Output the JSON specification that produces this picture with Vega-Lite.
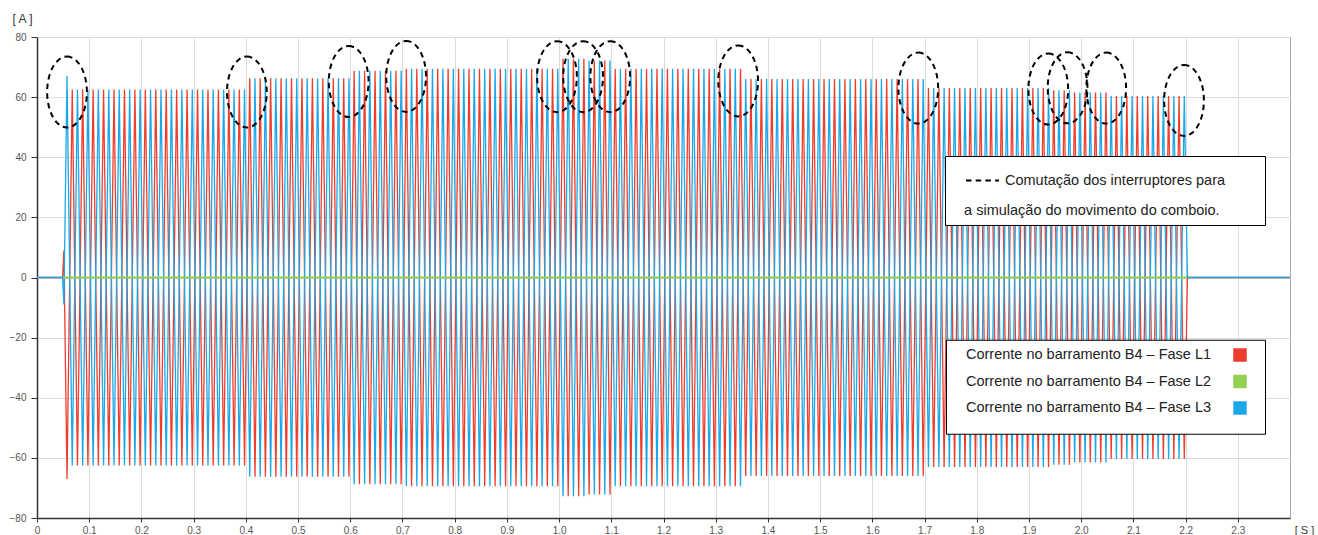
{
"$schema": "https://vega.github.io/schema/vega-lite/v6.json",
"width": 1253,
"height": 481,
"autosize": {"type": "none"},
"padding": {"left": 37, "top": 37, "right": 28, "bottom": 17},
"background": "white",
"config": {
  "font": "Liberation Sans",
  "view": {"stroke": "#a8a8a8", "strokeWidth": 1},
  "axis": {"gridColor": "#dcdcdc", "gridWidth": 1, "domainColor": "#333333", "domainWidth": 1.5, "tickColor": "#333333", "labelColor": "#555555", "labelFontSize": 10, "labelFont": "Liberation Sans", "titleFont": "Liberation Sans", "titleFontWeight": "normal", "titleColor": "#333333", "titleFontSize": 12, "labelFlush": false, "labelOverlap": false}
},
"datasets": {
  "fases": [
    {"t":0,"L1":0,"L3":0},
    {"t":0.049,"L1":0,"L3":0},
    {"t":0.0515,"L1":9,"L3":-9},
    {"t":0.0575,"L1":-67,"L3":67},
    {"t":0.0675,"L1":62.5,"L3":-62.5},
    {"t":0.0775,"L1":-62.5,"L3":62.5},
    {"t":0.0875,"L1":62.5,"L3":-62.5},
    {"t":0.0975,"L1":-62.5,"L3":62.5},
    {"t":0.1075,"L1":62.5,"L3":-62.5},
    {"t":0.1175,"L1":-62.5,"L3":62.5},
    {"t":0.1275,"L1":62.5,"L3":-62.5},
    {"t":0.1375,"L1":-62.5,"L3":62.5},
    {"t":0.1475,"L1":62.5,"L3":-62.5},
    {"t":0.1575,"L1":-62.5,"L3":62.5},
    {"t":0.1675,"L1":62.5,"L3":-62.5},
    {"t":0.1775,"L1":-62.5,"L3":62.5},
    {"t":0.1875,"L1":62.5,"L3":-62.5},
    {"t":0.1975,"L1":-62.5,"L3":62.5},
    {"t":0.2075,"L1":62.5,"L3":-62.5},
    {"t":0.2175,"L1":-62.5,"L3":62.5},
    {"t":0.2275,"L1":62.5,"L3":-62.5},
    {"t":0.2375,"L1":-62.5,"L3":62.5},
    {"t":0.2475,"L1":62.5,"L3":-62.5},
    {"t":0.2575,"L1":-62.5,"L3":62.5},
    {"t":0.2675,"L1":62.5,"L3":-62.5},
    {"t":0.2775,"L1":-62.5,"L3":62.5},
    {"t":0.2875,"L1":62.5,"L3":-62.5},
    {"t":0.2975,"L1":-62.5,"L3":62.5},
    {"t":0.3075,"L1":62.5,"L3":-62.5},
    {"t":0.3175,"L1":-62.5,"L3":62.5},
    {"t":0.3275,"L1":62.5,"L3":-62.5},
    {"t":0.3375,"L1":-62.5,"L3":62.5},
    {"t":0.3475,"L1":62.5,"L3":-62.5},
    {"t":0.3575,"L1":-62.5,"L3":62.5},
    {"t":0.3675,"L1":62.5,"L3":-62.5},
    {"t":0.3775,"L1":-62.5,"L3":62.5},
    {"t":0.3875,"L1":62.5,"L3":-62.5},
    {"t":0.3975,"L1":-62.5,"L3":62.5},
    {"t":0.4075,"L1":66.3,"L3":-66.3},
    {"t":0.4175,"L1":-66.3,"L3":66.3},
    {"t":0.4275,"L1":66.3,"L3":-66.3},
    {"t":0.4375,"L1":-66.3,"L3":66.3},
    {"t":0.4475,"L1":66.3,"L3":-66.3},
    {"t":0.4575,"L1":-66.3,"L3":66.3},
    {"t":0.4675,"L1":66.3,"L3":-66.3},
    {"t":0.4775,"L1":-66.3,"L3":66.3},
    {"t":0.4875,"L1":66.3,"L3":-66.3},
    {"t":0.4975,"L1":-66.3,"L3":66.3},
    {"t":0.5075,"L1":66.3,"L3":-66.3},
    {"t":0.5175,"L1":-66.3,"L3":66.3},
    {"t":0.5275,"L1":66.3,"L3":-66.3},
    {"t":0.5375,"L1":-66.3,"L3":66.3},
    {"t":0.5475,"L1":66.3,"L3":-66.3},
    {"t":0.5575,"L1":-66.3,"L3":66.3},
    {"t":0.5675,"L1":66.3,"L3":-66.3},
    {"t":0.5775,"L1":-66.3,"L3":66.3},
    {"t":0.5875,"L1":66.3,"L3":-66.3},
    {"t":0.5975,"L1":-66.3,"L3":66.3},
    {"t":0.6075,"L1":68.8,"L3":-68.8},
    {"t":0.6175,"L1":-68.8,"L3":68.8},
    {"t":0.6275,"L1":68.8,"L3":-68.8},
    {"t":0.6375,"L1":-68.8,"L3":68.8},
    {"t":0.6475,"L1":68.8,"L3":-68.8},
    {"t":0.6575,"L1":-68.8,"L3":68.8},
    {"t":0.6675,"L1":68.8,"L3":-68.8},
    {"t":0.6775,"L1":-68.8,"L3":68.8},
    {"t":0.6875,"L1":68.8,"L3":-68.8},
    {"t":0.6975,"L1":-68.8,"L3":68.8},
    {"t":0.7075,"L1":69.4,"L3":-69.4},
    {"t":0.7175,"L1":-69.4,"L3":69.4},
    {"t":0.7275,"L1":69.4,"L3":-69.4},
    {"t":0.7375,"L1":-69.4,"L3":69.4},
    {"t":0.7475,"L1":69.4,"L3":-69.4},
    {"t":0.7575,"L1":-69.4,"L3":69.4},
    {"t":0.7675,"L1":69.4,"L3":-69.4},
    {"t":0.7775,"L1":-69.4,"L3":69.4},
    {"t":0.7875,"L1":69.4,"L3":-69.4},
    {"t":0.7975,"L1":-69.4,"L3":69.4},
    {"t":0.8075,"L1":69.4,"L3":-69.4},
    {"t":0.8175,"L1":-69.4,"L3":69.4},
    {"t":0.8275,"L1":69.4,"L3":-69.4},
    {"t":0.8375,"L1":-69.4,"L3":69.4},
    {"t":0.8475,"L1":69.4,"L3":-69.4},
    {"t":0.8575,"L1":-69.4,"L3":69.4},
    {"t":0.8675,"L1":69.4,"L3":-69.4},
    {"t":0.8775,"L1":-69.4,"L3":69.4},
    {"t":0.8875,"L1":69.4,"L3":-69.4},
    {"t":0.8975,"L1":-69.4,"L3":69.4},
    {"t":0.9075,"L1":69.4,"L3":-69.4},
    {"t":0.9175,"L1":-69.4,"L3":69.4},
    {"t":0.9275,"L1":69.4,"L3":-69.4},
    {"t":0.9375,"L1":-69.4,"L3":69.4},
    {"t":0.9475,"L1":69.4,"L3":-69.4},
    {"t":0.9575,"L1":-69.4,"L3":69.4},
    {"t":0.9675,"L1":69.4,"L3":-69.4},
    {"t":0.9775,"L1":-69.4,"L3":69.4},
    {"t":0.9875,"L1":69.4,"L3":-69.4},
    {"t":0.9975,"L1":-69.4,"L3":69.4},
    {"t":1.0075,"L1":72.8,"L3":-72.8},
    {"t":1.0175,"L1":-72.8,"L3":72.8},
    {"t":1.0275,"L1":72.8,"L3":-72.8},
    {"t":1.0375,"L1":-72.8,"L3":72.8},
    {"t":1.0475,"L1":72.8,"L3":-72.8},
    {"t":1.0575,"L1":-72.2,"L3":72.2},
    {"t":1.0675,"L1":72.2,"L3":-72.2},
    {"t":1.0775,"L1":-72.2,"L3":72.2},
    {"t":1.0875,"L1":72.2,"L3":-72.2},
    {"t":1.0975,"L1":-72.2,"L3":72.2},
    {"t":1.1075,"L1":69.4,"L3":-69.4},
    {"t":1.1175,"L1":-69.4,"L3":69.4},
    {"t":1.1275,"L1":69.4,"L3":-69.4},
    {"t":1.1375,"L1":-69.4,"L3":69.4},
    {"t":1.1475,"L1":69.4,"L3":-69.4},
    {"t":1.1575,"L1":-69.4,"L3":69.4},
    {"t":1.1675,"L1":69.4,"L3":-69.4},
    {"t":1.1775,"L1":-69.4,"L3":69.4},
    {"t":1.1875,"L1":69.4,"L3":-69.4},
    {"t":1.1975,"L1":-69.4,"L3":69.4},
    {"t":1.2075,"L1":69.4,"L3":-69.4},
    {"t":1.2175,"L1":-69.4,"L3":69.4},
    {"t":1.2275,"L1":69.4,"L3":-69.4},
    {"t":1.2375,"L1":-69.4,"L3":69.4},
    {"t":1.2475,"L1":69.4,"L3":-69.4},
    {"t":1.2575,"L1":-69.4,"L3":69.4},
    {"t":1.2675,"L1":69.4,"L3":-69.4},
    {"t":1.2775,"L1":-69.4,"L3":69.4},
    {"t":1.2875,"L1":69.4,"L3":-69.4},
    {"t":1.2975,"L1":-69.4,"L3":69.4},
    {"t":1.3075,"L1":69.4,"L3":-69.4},
    {"t":1.3175,"L1":-69.4,"L3":69.4},
    {"t":1.3275,"L1":69.4,"L3":-69.4},
    {"t":1.3375,"L1":-69.4,"L3":69.4},
    {"t":1.3475,"L1":69.4,"L3":-69.4},
    {"t":1.3575,"L1":-66,"L3":66},
    {"t":1.3675,"L1":66,"L3":-66},
    {"t":1.3775,"L1":-66,"L3":66},
    {"t":1.3875,"L1":66,"L3":-66},
    {"t":1.3975,"L1":-66,"L3":66},
    {"t":1.4075,"L1":66,"L3":-66},
    {"t":1.4175,"L1":-66,"L3":66},
    {"t":1.4275,"L1":66,"L3":-66},
    {"t":1.4375,"L1":-66,"L3":66},
    {"t":1.4475,"L1":66,"L3":-66},
    {"t":1.4575,"L1":-66,"L3":66},
    {"t":1.4675,"L1":66,"L3":-66},
    {"t":1.4775,"L1":-66,"L3":66},
    {"t":1.4875,"L1":66,"L3":-66},
    {"t":1.4975,"L1":-66,"L3":66},
    {"t":1.5075,"L1":66,"L3":-66},
    {"t":1.5175,"L1":-66,"L3":66},
    {"t":1.5275,"L1":66,"L3":-66},
    {"t":1.5375,"L1":-66,"L3":66},
    {"t":1.5475,"L1":66,"L3":-66},
    {"t":1.5575,"L1":-66,"L3":66},
    {"t":1.5675,"L1":66,"L3":-66},
    {"t":1.5775,"L1":-66,"L3":66},
    {"t":1.5875,"L1":66,"L3":-66},
    {"t":1.5975,"L1":-66,"L3":66},
    {"t":1.6075,"L1":66,"L3":-66},
    {"t":1.6175,"L1":-66,"L3":66},
    {"t":1.6275,"L1":66,"L3":-66},
    {"t":1.6375,"L1":-66,"L3":66},
    {"t":1.6475,"L1":66,"L3":-66},
    {"t":1.6575,"L1":-66,"L3":66},
    {"t":1.6675,"L1":66,"L3":-66},
    {"t":1.6775,"L1":-66,"L3":66},
    {"t":1.6875,"L1":66,"L3":-66},
    {"t":1.6975,"L1":-66,"L3":66},
    {"t":1.7075,"L1":63,"L3":-63},
    {"t":1.7175,"L1":-63,"L3":63},
    {"t":1.7275,"L1":63,"L3":-63},
    {"t":1.7375,"L1":-63,"L3":63},
    {"t":1.7475,"L1":63,"L3":-63},
    {"t":1.7575,"L1":-63,"L3":63},
    {"t":1.7675,"L1":63,"L3":-63},
    {"t":1.7775,"L1":-63,"L3":63},
    {"t":1.7875,"L1":63,"L3":-63},
    {"t":1.7975,"L1":-63,"L3":63},
    {"t":1.8075,"L1":63,"L3":-63},
    {"t":1.8175,"L1":-63,"L3":63},
    {"t":1.8275,"L1":63,"L3":-63},
    {"t":1.8375,"L1":-63,"L3":63},
    {"t":1.8475,"L1":63,"L3":-63},
    {"t":1.8575,"L1":-63,"L3":63},
    {"t":1.8675,"L1":63,"L3":-63},
    {"t":1.8775,"L1":-63,"L3":63},
    {"t":1.8875,"L1":63,"L3":-63},
    {"t":1.8975,"L1":-63,"L3":63},
    {"t":1.9075,"L1":63,"L3":-63},
    {"t":1.9175,"L1":-63,"L3":63},
    {"t":1.9275,"L1":63,"L3":-63},
    {"t":1.9375,"L1":-63,"L3":63},
    {"t":1.9475,"L1":62.3,"L3":-62.3},
    {"t":1.9575,"L1":-62.3,"L3":62.3},
    {"t":1.9675,"L1":62.3,"L3":-62.3},
    {"t":1.9775,"L1":-62.3,"L3":62.3},
    {"t":1.9875,"L1":61.5,"L3":-61.5},
    {"t":1.9975,"L1":-61.5,"L3":61.5},
    {"t":2.0075,"L1":61.5,"L3":-61.5},
    {"t":2.0175,"L1":-61.5,"L3":61.5},
    {"t":2.0275,"L1":61.5,"L3":-61.5},
    {"t":2.0375,"L1":-61.5,"L3":61.5},
    {"t":2.0475,"L1":61.5,"L3":-61.5},
    {"t":2.0575,"L1":-60.4,"L3":60.4},
    {"t":2.0675,"L1":60.4,"L3":-60.4},
    {"t":2.0775,"L1":-60.4,"L3":60.4},
    {"t":2.0875,"L1":60.4,"L3":-60.4},
    {"t":2.0975,"L1":-60.4,"L3":60.4},
    {"t":2.1075,"L1":60.4,"L3":-60.4},
    {"t":2.1175,"L1":-60.4,"L3":60.4},
    {"t":2.1275,"L1":60.4,"L3":-60.4},
    {"t":2.1375,"L1":-60.4,"L3":60.4},
    {"t":2.1475,"L1":60.4,"L3":-60.4},
    {"t":2.1575,"L1":-60.4,"L3":60.4},
    {"t":2.1675,"L1":60.4,"L3":-60.4},
    {"t":2.1775,"L1":-60.4,"L3":60.4},
    {"t":2.1875,"L1":60.4,"L3":-60.4},
    {"t":2.1975,"L1":-60.4,"L3":60.4},
    {"t":2.2035,"L1":0,"L3":0},
    {"t":2.4,"L1":0,"L3":0}
  ],
  "fase2": [
    {"t":0.0505,"L2":0},
    {"t":2.2025,"L2":0}
  ],
  "comutacoes": [
    {"t":0.0575,"I":61.7,"evento":"comutacao"},
    {"t":0.402,"I":61.7,"evento":"comutacao"},
    {"t":0.597,"I":65.2,"evento":"comutacao"},
    {"t":0.707,"I":66.9,"evento":"comutacao"},
    {"t":0.996,"I":66.8,"evento":"comutacao"},
    {"t":1.046,"I":66.8,"evento":"comutacao"},
    {"t":1.098,"I":66.8,"evento":"comutacao"},
    {"t":1.343,"I":65.4,"evento":"comutacao"},
    {"t":1.688,"I":63.0,"evento":"comutacao"},
    {"t":1.937,"I":62.7,"evento":"comutacao"},
    {"t":1.974,"I":63.1,"evento":"comutacao"},
    {"t":2.048,"I":63.0,"evento":"comutacao"},
    {"t":2.197,"I":58.9,"evento":"comutacao"}
  ]
},
"encoding": {
  "x": {"field": "t", "type": "quantitative",
        "scale": {"domain": [0, 2.4], "nice": false, "zero": false},
        "axis": {"values": [0,0.1,0.2,0.3,0.4,0.5,0.6,0.7,0.8,0.9,1.0,1.1,1.2,1.3,1.4,1.5,1.6,1.7,1.8,1.9,2.0,2.1,2.2,2.3],
                 "labelExpr": "datum.value === 0 ? '0' : format(datum.value, '.1f')",
                 "title": "[ S ]", "titleX": 1267, "titleY": 12, "titleAlign": "center", "titleBaseline": "middle", "titleFontSize": 11,
                 "tickSize": 4, "labelPadding": 3, "grid": true}},
  "y": {"field": "I", "type": "quantitative",
        "scale": {"domain": [-80, 80], "nice": false, "zero": false},
        "axis": {"values": [-80,-60,-40,-20,0,20,40,60,80],
                 "title": "[ A ]", "titleAngle": 0, "titleX": -15, "titleY": -19, "titleAlign": "center", "titleBaseline": "middle",
                 "tickSize": 6, "labelPadding": 5, "grid": true}}
},
"layer": [
  {
    "data": {"name": "fases"},
    "transform": [{"fold": ["L1", "L3"], "as": ["serie", "I"]}],
    "mark": {"type": "line", "strokeWidth": 1.3, "clip": true},
    "encoding": {
      "color": {"field": "serie", "type": "nominal",
        "scale": {"domain": ["L1", "L2", "L3"], "range": ["#ee3d2c", "#92d050", "#1aa8ea"]},
        "legend": {"orient": "none", "legendX": 909, "legendY": 302.75, "title": null,
          "labelExpr": "'Corrente no barramento B4 – Fase ' + datum.label",
          "labelFontSize": 14.5, "labelColor": "#222222", "labelLimit": 400, "labelFont": "Liberation Sans",
          "symbolType": "square", "symbolSize": 45.5625, "symbolStrokeWidth": 6.75, "symbolOpacity": 1,
          "symbolOffset": 278.75, "labelOffset": -281.25, "padding": 8, "rowPadding": -8.5,
          "strokeColor": "black", "fillColor": "white", "cornerRadius": 0}
      }
    }
  },
  {
    "data": {"name": "fase2"},
    "transform": [{"fold": ["L2"], "as": ["serie", "I"]}],
    "mark": {"type": "line", "strokeWidth": 2},
    "encoding": {"color": {"field": "serie", "type": "nominal"}}
  },
  {
    "data": {"name": "comutacoes"},
    "mark": {"type": "point", "shape": "M0,-1 C0.31,-1 0.56,-0.55 0.56,0 C0.56,0.55 0.31,1 0,1 C-0.31,1 -0.56,0.55 -0.56,0 C-0.56,-0.55 -0.31,-1 0,-1 Z",
             "size": 5041, "filled": false, "stroke": "black", "strokeWidth": 2, "opacity": 1},
    "encoding": {
      "strokeDash": {"field": "evento", "type": "nominal", "scale": {"range": [[5.5, 4.2]]},
        "legend": {"orient": "none", "legendX": 908, "legendY": 119,
          "title": "\u200b\u00a0\u00a0\u00a0a simulação do movimento do comboio.", "titleOrient": "bottom", "titleAnchor": "start",
          "titleFontSize": 14.5, "titleFontWeight": "normal", "titleColor": "#222222", "titleFont": "Liberation Sans", "titlePadding": 17, "titleLimit": 500,
          "labelExpr": "'Comutação dos interruptores para\u00a0\u00a0\u00a0\u00a0\u00a0\u00a0\u00a0\u00a0\u200b'",
          "labelFontSize": 14.5, "labelColor": "#222222", "labelLimit": 500, "labelFont": "Liberation Sans",
          "symbolType": "stroke", "symbolSize": 1089, "symbolStrokeWidth": 2, "symbolStrokeColor": "black", "symbolOpacity": 1,
          "symbolOffset": 13, "labelOffset": 5, "padding": 7,
          "strokeColor": "black", "fillColor": "white", "cornerRadius": 0}
      }
    }
  }
]
}
